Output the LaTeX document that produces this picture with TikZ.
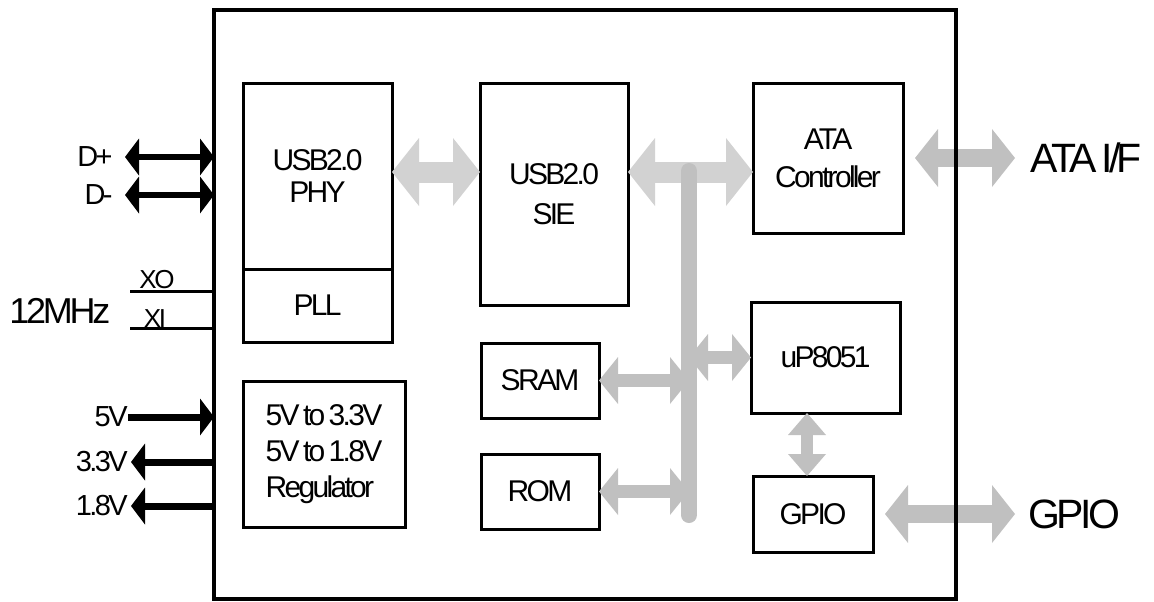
\documentclass[tikz,border=0pt]{standalone}
\usepackage{fontspec}
\setmainfont{Liberation Sans}[LetterSpace=-9.0,WordSpace=0.6]
\usetikzlibrary{arrows.meta,positioning,calc}
\definecolor{busgray}{HTML}{C0C0C0}
\definecolor{palegray}{HTML}{D2D2D2}
\tikzset{
  gW/.tip={Triangle[length=13.5pt,width=34pt,line width=0pt]},
  gE/.tip={Triangle[length=11.5pt,width=29pt,line width=0pt]},
  gM/.tip={Triangle[length=9.5pt,width=23.5pt,line width=0pt]},
  gV/.tip={Triangle[length=11pt,width=19pt,line width=0pt]},
  pT/.tip={Triangle[length=7pt,width=18.5pt,line width=0pt]}}

\begin{document}
\begin{tikzpicture}[x=0.5pt,y=-0.5pt,
  blk/.style={draw,line width=1.5pt,inner sep=0pt,outer sep=0pt,align=center,font=\fontsize{15}{16}\selectfont},
  gwide/.style={draw=palegray,line width=10.5pt,gW-gW},
  gext/.style={draw=busgray,line width=9pt,gE-gE},
  gmid/.style={draw=busgray,line width=6.5pt,gM-gM},
  gvert/.style={draw=busgray,line width=6pt,gV-gV},
  bus/.style={draw=busgray,line width=8pt,line cap=round},
  sig/.style={line width=3pt,pT-pT},
  pwr/.style={line width=3.5pt,-pT},
  xtal/.style={line width=1.5pt},
  lab/.style={inner sep=0pt,font=\fontsize{14.5}{17}\selectfont},
  xlab/.style={inner sep=0pt,font=\fontsize{13}{15}\selectfont},
  big/.style={inner sep=0pt,anchor=west,font=\fontsize{20.5}{24}\selectfont}]
\useasboundingbox (0,0) rectangle (1154,601);
% blocks inside the chip
\node[blk,minimum width=74.5pt,minimum height=93pt] (phy) at (317.5,176) {USB2.0\\PHY};
\node[blk,minimum width=74.5pt,minimum height=36.5pt,below=0pt of phy] (pll) {PLL};
\node[blk,minimum width=81pt,minimum height=73pt,align=left,font=\fontsize{15}{18}\selectfont] (reg) at (324,454) {5V to 3.3V\\5V to 1.8V\\Regulator};
\node[blk,minimum width=74pt,minimum height=111pt,font=\fontsize{15}{20}\selectfont] (sie) at (554,194) {USB2.0\\SIE};
\node[blk,minimum width=59pt,minimum height=37.5pt] (sram) at (540,380.5) {SRAM};
\node[blk,minimum width=59pt,minimum height=37.5pt] (rom) at (540,491.5) {ROM};
\node[blk,minimum width=75pt,minimum height=75pt,font=\fontsize{15}{19}\selectfont] (ata) at (828,158) {ATA\\Controller};
\node[blk,minimum width=74.5pt,minimum height=55.5pt] (up) at (825.5,357.5) {uP8051};
\node[blk,minimum width=60pt,minimum height=38pt] (gpio) at (813,514) {GPIO};
\coordinate (bt) at (689,171); \coordinate (bb) at (689,515);
% internal data paths, bus on top
\draw[gwide] ([yshift=2pt]phy.east) -- ([yshift=2pt]phy.east -| sie.west);
\draw[gwide] ([yshift=11pt]sie.east) -- ([yshift=11pt]sie.east -| ata.west);
\draw[gmid] (sram.east) -- (sram.east -| bt);
\draw[gmid] (rom.east) -- (rom.east -| bt);
\draw[gmid] (up.west -| bt) -- (up.west);
\draw[gvert] ([xshift=-3pt]gpio.north |- up.south) -- ([xshift=-3pt]gpio.north);
\draw[bus] (bt) -- (bb);
% external interfaces
\node[big] (ataif) at (1030,158) {ATA I/F};
\node[big] (gpioif) at (1028,514) {GPIO};
\draw[gext,shorten <=6pt,shorten >=7.5pt] (ata.east) -- (ataif.west);
\draw[gext,shorten <=6pt,shorten >=6.5pt] (gpio.east) -- (gpioif.west);
\node[draw,line width=2pt,inner sep=0pt,outer sep=0pt,minimum width=371pt,minimum height=294.5pt] (chip) at (585,304.5) {};
% pins
\coordinate (dp) at (125,157); \coordinate (dm) at (125,195);
\draw[sig] (dp) -- (dp -| chip.west);
\draw[sig] (dm) -- (dm -| chip.west);
\node[lab,left=6pt of dp] (dplab) {D+};
\node[lab,left=6pt of dm] (dmlab) {D-};
\coordinate (xo) at (130,291); \coordinate (xi) at (130,328);
\draw[xtal] (xo) -- (xo -| chip.west);
\draw[xtal] (xi) -- (xi -| chip.west);
\node[xlab,anchor=south] (xolab) at (157,289) {XO};
\node[xlab,anchor=base] (xilab) at (155,327) {XI};
\node[inner sep=0pt,anchor=west,font=\fontsize{18}{20}\selectfont] (clk) at (9,311) {12MHz};
\coordinate (v5) at (128,417); \coordinate (v33) at (131,462); \coordinate (v18) at (131,506);
\draw[pwr] (v5) -- (v5 -| chip.west);
\draw[pwr] (v33 -| chip.west) -- (v33);
\draw[pwr] (v18 -| chip.west) -- (v18);
\node[lab,left=0pt of v5] (v5lab) {5V};
\node[lab,left=1.5pt of v33] (v33lab) {3.3V};
\node[lab,left=1.5pt of v18] (v18lab) {1.8V};
\end{tikzpicture}
\end{document}
